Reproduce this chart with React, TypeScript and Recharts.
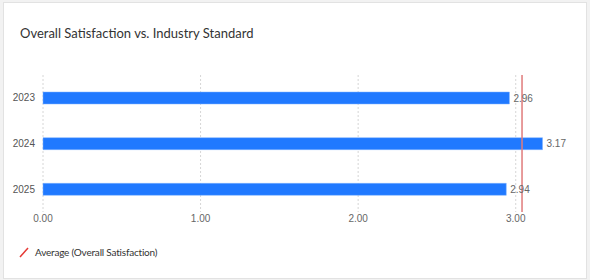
import React from "react";
import {
  BarChart,
  Bar,
  XAxis,
  YAxis,
  CartesianGrid,
  ReferenceLine,
  LabelList,
} from "recharts";

const years = ["2023", "2024", "2025"];
const satisfaction = [2.96, 3.17, 2.94];
const xTicks = [0, 1, 2, 3];
const xDomain: [number, number] = [0, 3.3];
const averageValue = 3.04;
const titleText = "Overall Satisfaction vs. Industry Standard";
const legendText = "Average (Overall Satisfaction)";

const data = years.map((y, i) => ({ year: y, value: satisfaction[i] }));

const TITLE_FONT = "Lato, 'Open Sans', sans-serif";
const TICK_FONT = "'Liberation Sans', Arial, sans-serif";

const gridX = (props: any) => {
  const off = props.offset || {};
  const left = off.left ?? 43;
  const width = off.width ?? 520;
  return xTicks.map(
    (t) => left + ((t - xDomain[0]) / (xDomain[1] - xDomain[0])) * width
  );
};

export default function App() {
  return (
    <div
      style={{
        position: "fixed",
        left: 0,
        top: 0,
        width: 590,
        height: 280,
        background: "#f2f2f2",
        fontFamily: TITLE_FONT,
      }}
    >
      <div
        style={{
          position: "absolute",
          left: 3,
          top: 2,
          width: 582,
          height: 275,
          background: "#ffffff",
          border: "1px solid #e2e2e2",
        }}
      />
      <div
        style={{
          position: "absolute",
          left: 20,
          top: 24,
          fontSize: 13,
          color: "#333333",
          lineHeight: "18px",
          whiteSpace: "nowrap",
        }}
      >
        {titleText}
      </div>
      <div style={{ position: "absolute", left: 0, top: 0 }}>
        <BarChart
          width={590}
          height={280}
          layout="vertical"
          data={data}
          margin={{ top: 75, right: 27, bottom: 48, left: 8 }}
        >
          <CartesianGrid
            horizontal={false}
            stroke="#d6d6d6"
            strokeDasharray="2 2"
            verticalCoordinatesGenerator={gridX}
          />
          <XAxis
            type="number"
            domain={xDomain}
            ticks={xTicks}
            tickFormatter={(v: number) => v.toFixed(2)}
            axisLine={false}
            tickLine={false}
            tickSize={0}
            tickMargin={3}
            height={20}
            tick={{ fill: "#666666", fontSize: 10, fontFamily: TICK_FONT }}
          />
          <YAxis
            type="category"
            dataKey="year"
            width={35}
            axisLine={false}
            tickLine={false}
            tick={{ fill: "#555555", fontSize: 10, fontFamily: TICK_FONT }}
          />
          <Bar
            dataKey="value"
            fill="#2079ff"
            stroke="#7fb2ff"
            strokeWidth={0.5}
            barSize={12}
            isAnimationActive={false}
          >
            <LabelList
              dataKey="value"
              position="right"
              offset={4}
              formatter={(v: number) => v.toFixed(2)}
              style={{ fill: "#666666", fontSize: 10, fontFamily: TICK_FONT }}
            />
          </Bar>
          <ReferenceLine x={averageValue} stroke="#e07b7b" strokeWidth={1.5} />
        </BarChart>
      </div>
      <div
        style={{
          position: "absolute",
          left: 19,
          top: 245,
          display: "flex",
          alignItems: "center",
          whiteSpace: "nowrap",
        }}
      >
        <svg width={10} height={12} style={{ marginRight: 6 }}>
          <line x1={1} y1={11} x2={9} y2={2} stroke="#e53935" strokeWidth={1.5} />
        </svg>
        <span
          style={{
            fontSize: 10,
            color: "#333333",
            lineHeight: "14px",
            letterSpacing: -0.2,
          }}
        >
          {legendText}
        </span>
      </div>
    </div>
  );
}
